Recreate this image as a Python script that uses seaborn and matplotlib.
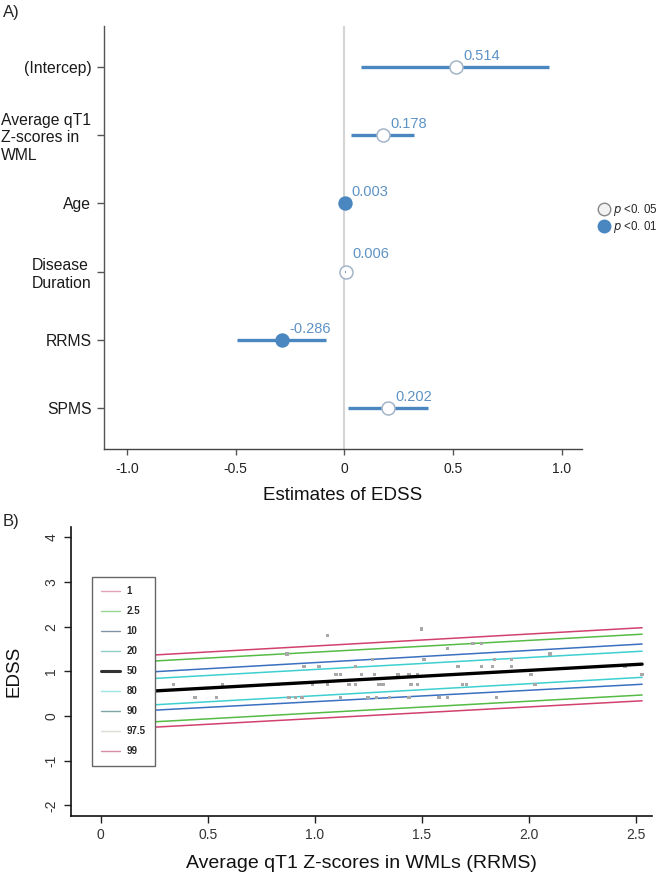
import numpy as np
import pandas as pd
import matplotlib
matplotlib.use("Agg")
import matplotlib.pyplot as plt
import seaborn as sns
from matplotlib.lines import Line2D

# ---------------- Panel A data ----------------
terms = ["(Intercep)", "Average qT1\nZ-scores in\nWML", "Age", "Disease\nDuration", "RRMS", "SPMS"]
estimates = [0.514, 0.178, 0.003, 0.006, -0.286, 0.202]
ci_low = [0.076, 0.030, 0.001, 0.002, -0.494, 0.018]
ci_high = [0.943, 0.321, 0.005, 0.010, -0.083, 0.383]
signif = ["p<0.05", "p<0.05", "p<0.01", "p<0.05", "p<0.01", "p<0.05"]
est_labels = ["0.514", "0.178", "0.003", "0.006", "-0.286", "0.202"]
xticks_a = [-1.0, -0.5, 0.0, 0.5, 1.0]
xticklabels_a = ["-1.0", "-0.5", "0", "0.5", "1.0"]

# ---------------- Panel B data ----------------
pct_levels = ["1", "2.5", "10", "20", "50", "80", "90", "97.5", "99"]
pct_x = [0.25, 2.53]
pct_left = [-0.25, -0.13, 0.13, 0.25, 0.56, 0.84, 0.99, 1.23, 1.365]
pct_right = [0.34, 0.47, 0.71, 0.865, 1.16, 1.45, 1.61, 1.83, 1.975]

pts_x = [0.25, 0.34, 0.44, 0.54, 0.57, 0.83, 0.87, 0.88, 0.91, 0.94, 0.95, 0.99,
         1.02, 1.06, 1.06, 1.10, 1.12, 1.12, 1.16, 1.19, 1.19, 1.22, 1.25, 1.27,
         1.28, 1.29, 1.30, 1.32, 1.35, 1.39, 1.44, 1.48, 1.44, 1.45, 1.48, 1.50,
         1.51, 1.62, 1.58, 1.62, 1.66, 1.67, 1.69, 1.71, 1.74, 1.78, 1.78, 1.83,
         1.84, 1.85, 1.92, 1.92, 2.01, 2.03, 2.10, 2.45, 2.53]
pts_y = [0.71, 0.71, 0.41, 0.41, 0.71, 0.71, 1.39, 0.41, 0.41, 0.41, 1.11, 0.71,
         1.11, 1.80, 0.71, 0.93, 0.93, 0.41, 0.71, 0.71, 1.11, 0.93, 0.41, 1.27,
         0.93, 0.41, 0.71, 0.71, 0.41, 0.93, 0.93, 0.93, 0.41, 0.71, 0.71, 1.95,
         1.27, 1.51, 0.41, 0.41, 0.93, 1.11, 0.71, 0.71, 1.62, 1.62, 1.11, 1.11,
         1.27, 0.41, 1.11, 1.27, 0.93, 0.71, 1.39, 1.11, 0.93]
xticks_b = [0, 0.5, 1.0, 1.5, 2.0, 2.5]
xticklabels_b = ["0", "0.5", "1.0", "1.5", "2.0", "2.5"]
yticks_b = [-2, -1, 0, 1, 2, 3, 4]

# ---------------- styles ----------------
sns.set_style("white")
plt.rcParams["font.family"] = ["Liberation Sans", "DejaVu Sans"]
BLUE = "#4a86c0"
TXT_BLUE = "#5d92c4"
OPEN_EDGE = "#a3b4c8"
line_colors = ["#d2416e", "#55bb45", "#3a70c0", "#3ecfd0", "#000000",
               "#3ecfd0", "#3a70c0", "#55bb45", "#d2416e"]
legend_colors = ["#e0a4b6", "#9dd494", "#8494a6", "#8ccfc8", "#333333",
                 "#9ee6e4", "#7ea6a8", "#deded4", "#d88ca6"]
line_widths = [1.1, 1.1, 1.1, 1.1, 2.4, 1.1, 1.1, 1.1, 1.1]

fig = plt.figure(figsize=(6.61, 8.76), dpi=100)

# ================= Panel A =================
axA = fig.add_axes([0.157, 0.4874, 0.723, 0.4829])
ypos = np.arange(len(terms))
axA.axvline(0, color="#d4d4d4", lw=1.5, zorder=0)
axA.hlines(ypos, ci_low, ci_high, color=BLUE, lw=2.4, zorder=1)

dfA = pd.DataFrame({"est": estimates, "pos": ypos, "sig": signif})
sns.scatterplot(data=dfA[dfA["sig"] == "p<0.05"], x="est", y="pos", s=88,
                color="white", edgecolor=OPEN_EDGE, linewidth=1.1, zorder=3,
                ax=axA, legend=False)
sns.scatterplot(data=dfA[dfA["sig"] == "p<0.01"], x="est", y="pos", s=88,
                color=BLUE, edgecolor=BLUE, linewidth=1.0, zorder=3,
                ax=axA, legend=False)
# the disease-duration CI is tiny: drawn on top of its open circle
axA.hlines([ypos[3]], [ci_low[3]], [ci_high[3]], color="#6f8fae", lw=1.4, zorder=4)

label_dy = [8, 8, 8, 13, 8, 8]
for e, p, lbl, dy in zip(estimates, ypos, est_labels, label_dy):
    axA.annotate(lbl, (e, p), xytext=(5, dy), textcoords="offset points",
                 color=TXT_BLUE, fontsize=10.5, ha="left", va="center")

axA.set_xlim(-1.106, 1.092)
axA.set_ylim(5.6, -0.6)
axA.set_yticks(ypos)
axA.set_yticklabels(terms, fontsize=11.3, color="#1a1a1a")
for t in axA.get_yticklabels():
    t.set_multialignment("left")
axA.set_xticks(xticks_a)
axA.set_xticklabels(xticklabels_a, fontsize=10, color="#222222")
axA.set_xlabel("Estimates of EDSS", fontsize=13.5, color="#111111", labelpad=8)
axA.set_ylabel("")
axA.tick_params(axis="y", direction="out", length=5, width=1, color="#555555", pad=4, left=True)
axA.tick_params(axis="x", direction="out", length=4, width=1, color="#555555", pad=5, bottom=True)
for side in ["top", "right"]:
    axA.spines[side].set_visible(False)
axA.spines["left"].set_color("#555555")
axA.spines["bottom"].set_color("#444444")
axA.spines["left"].set_linewidth(1.0)
axA.spines["bottom"].set_linewidth(1.0)

legA = [Line2D([], [], marker="o", ls="", markersize=9, markerfacecolor="#f2f2f2",
               markeredgecolor="#888888", markeredgewidth=1.0),
        Line2D([], [], marker="o", ls="", markersize=9, markerfacecolor=BLUE,
               markeredgecolor=BLUE)]
fig.legend(legA, ["$p$ <0. 05", "$p$ <0. 01"], loc="center left",
           bbox_to_anchor=(0.891, 0.751), frameon=False, fontsize=8.3,
           handletextpad=0.2, labelspacing=0.1, handlelength=1.2, borderpad=0.2)

fig.text(0.004, 0.986, "A)", fontsize=12, va="center", ha="left")
fig.text(0.004, 0.405, "B)", fontsize=12, va="center", ha="left")

# ================= Panel B =================
axB = fig.add_axes([0.107, 0.0685, 0.879, 0.3299])
sns.scatterplot(x=pts_x, y=pts_y, s=6, color="#a8a8a8", edgecolor="none",
                marker="s", ax=axB, zorder=2, legend=False)
for lvl, yl, yr, c, lw in zip(pct_levels, pct_left, pct_right, line_colors, line_widths):
    sns.lineplot(x=pct_x, y=[yl, yr], color=c, lw=lw, ax=axB, zorder=3 if lvl == "50" else 1)

axB.set_xlim(-0.140, 2.575)
axB.set_ylim(-2.237, 4.228)
axB.set_xticks(xticks_b)
axB.set_xticklabels(xticklabels_b, fontsize=10, color="#333333")
axB.set_yticks(yticks_b)
axB.set_yticklabels([str(v) for v in yticks_b], fontsize=10, color="#333333",
                    rotation=90, va="center")
axB.tick_params(direction="out", length=5, width=1, color="#222222", left=True, bottom=True, pad=4)
axB.set_xlabel("Average qT1 Z-scores in WMLs (RRMS)", fontsize=14, color="#111111", labelpad=9)
axB.set_ylabel("EDSS", fontsize=13.5, color="#111111", labelpad=16)
for side in ["top", "right"]:
    axB.spines[side].set_visible(False)
axB.spines["left"].set_color("#111111")
axB.spines["bottom"].set_color("#111111")
axB.spines["left"].set_linewidth(1.2)
axB.spines["bottom"].set_linewidth(1.2)

legB_handles = [Line2D([], [], color=c, lw=(2.2 if l == "50" else 1.0))
                for l, c in zip(pct_levels, legend_colors)]
axB.legend(legB_handles, pct_levels, loc="upper left", bbox_to_anchor=(0.036, 0.827),
           frameon=True, fancybox=False, edgecolor="#666666", framealpha=1,
           prop={"size": 7, "weight": "bold"}, handlelength=1.95, handletextpad=0.72,
           labelspacing=1.03, borderpad=0.95, borderaxespad=0)
axB.get_legend().get_frame().set_linewidth(1.0)

fig.savefig("out.png", dpi=100)
